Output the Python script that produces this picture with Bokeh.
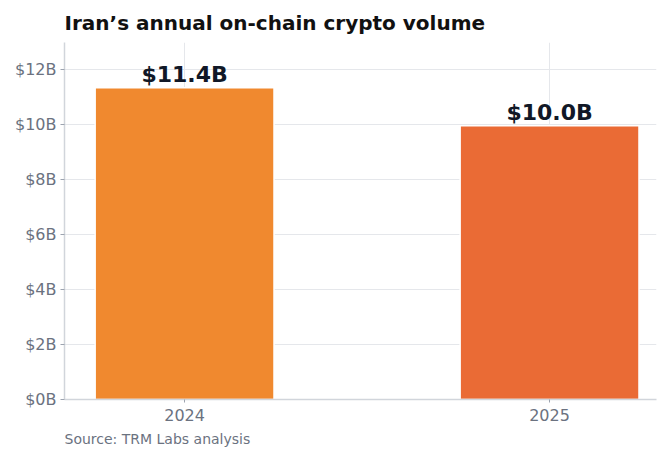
from bokeh.plotting import figure
from bokeh.models import Range1d, FixedTicker, Title, ColumnDataSource
from bokeh.core.properties import value
from bokeh.embed import file_html
from bokeh.resources import INLINE

years = ["2024", "2025"]
volumes = [11.35, 9.97]  # $B
value_labels = ["$11.4B", "$10.0B"]
colors = ["#F0892F", "#EA6B35"]
y_ticks = [0, 2, 4, 6, 8, 10, 12]
y_tick_labels = ["$0B", "$2B", "$4B", "$6B", "$8B", "$10B", "$12B"]
title_text = "Iran\u2019s annual on-chain crypto volume"
source_text = "Source: TRM Labs analysis"

FONT = "DejaVu Sans"
xs = list(range(len(years)))

src = ColumnDataSource(dict(x=xs, top=volumes, label=value_labels, color=colors))

p = figure(width=657, height=452, output_backend="svg", toolbar_location=None,
           x_range=Range1d(-0.329, 1.293), y_range=Range1d(0, 13),
           min_border_left=64, min_border_right=1, min_border_top=0, min_border_bottom=0)

p.title.text = title_text
p.title.text_font = FONT
p.title.text_font_size = "20px"
p.title.text_font_style = "bold"
p.title.text_color = "#111111"
p.title.align = "left"
p.title.standoff = 16

p.vbar(x="x", top="top", width=0.49, bottom=0, source=src, fill_color="color",
       line_color="white", line_width=1.5)
p.text(x="x", y="top", text="label", source=src, text_align="center", text_baseline="bottom",
       y_offset=-1, text_font=value(FONT), text_font_size="22px", text_font_style="bold",
       text_color="#111827")

p.xaxis.ticker = FixedTicker(ticks=xs)
p.xaxis.major_label_overrides = {i: y for i, y in zip(xs, years)}
p.yaxis.ticker = FixedTicker(ticks=y_ticks)
p.yaxis.major_label_overrides = {t: l for t, l in zip(y_ticks, y_tick_labels)}

for ax in (p.xaxis, p.yaxis):
    ax.axis_line_color = "#d1d5db"
    ax.axis_line_width = 1.5
    ax.major_tick_line_color = "#9ca3af"
    ax.major_tick_out = 4
    ax.major_tick_in = 0
    ax.minor_tick_line_color = None
    ax.major_label_text_font = FONT
    ax.major_label_text_font_size = "16px"
    ax.major_label_text_color = "#6b7280"
p.xaxis.major_tick_out = 3
p.xaxis.major_label_standoff = 6
p.yaxis.major_label_standoff = 4

p.xgrid.ticker = FixedTicker(ticks=xs)
p.xgrid.grid_line_color = "#e5e7eb"
p.ygrid.grid_line_color = "#e5e7eb"
p.outline_line_color = None

src_title = Title(text=source_text, align="left", text_font=FONT,
                  text_font_size="14px", text_font_style="normal", text_color="#6b7280",
                  standoff=11)
p.add_layout(src_title, "below")

open("out.html", "w").write(file_html(p, INLINE))
